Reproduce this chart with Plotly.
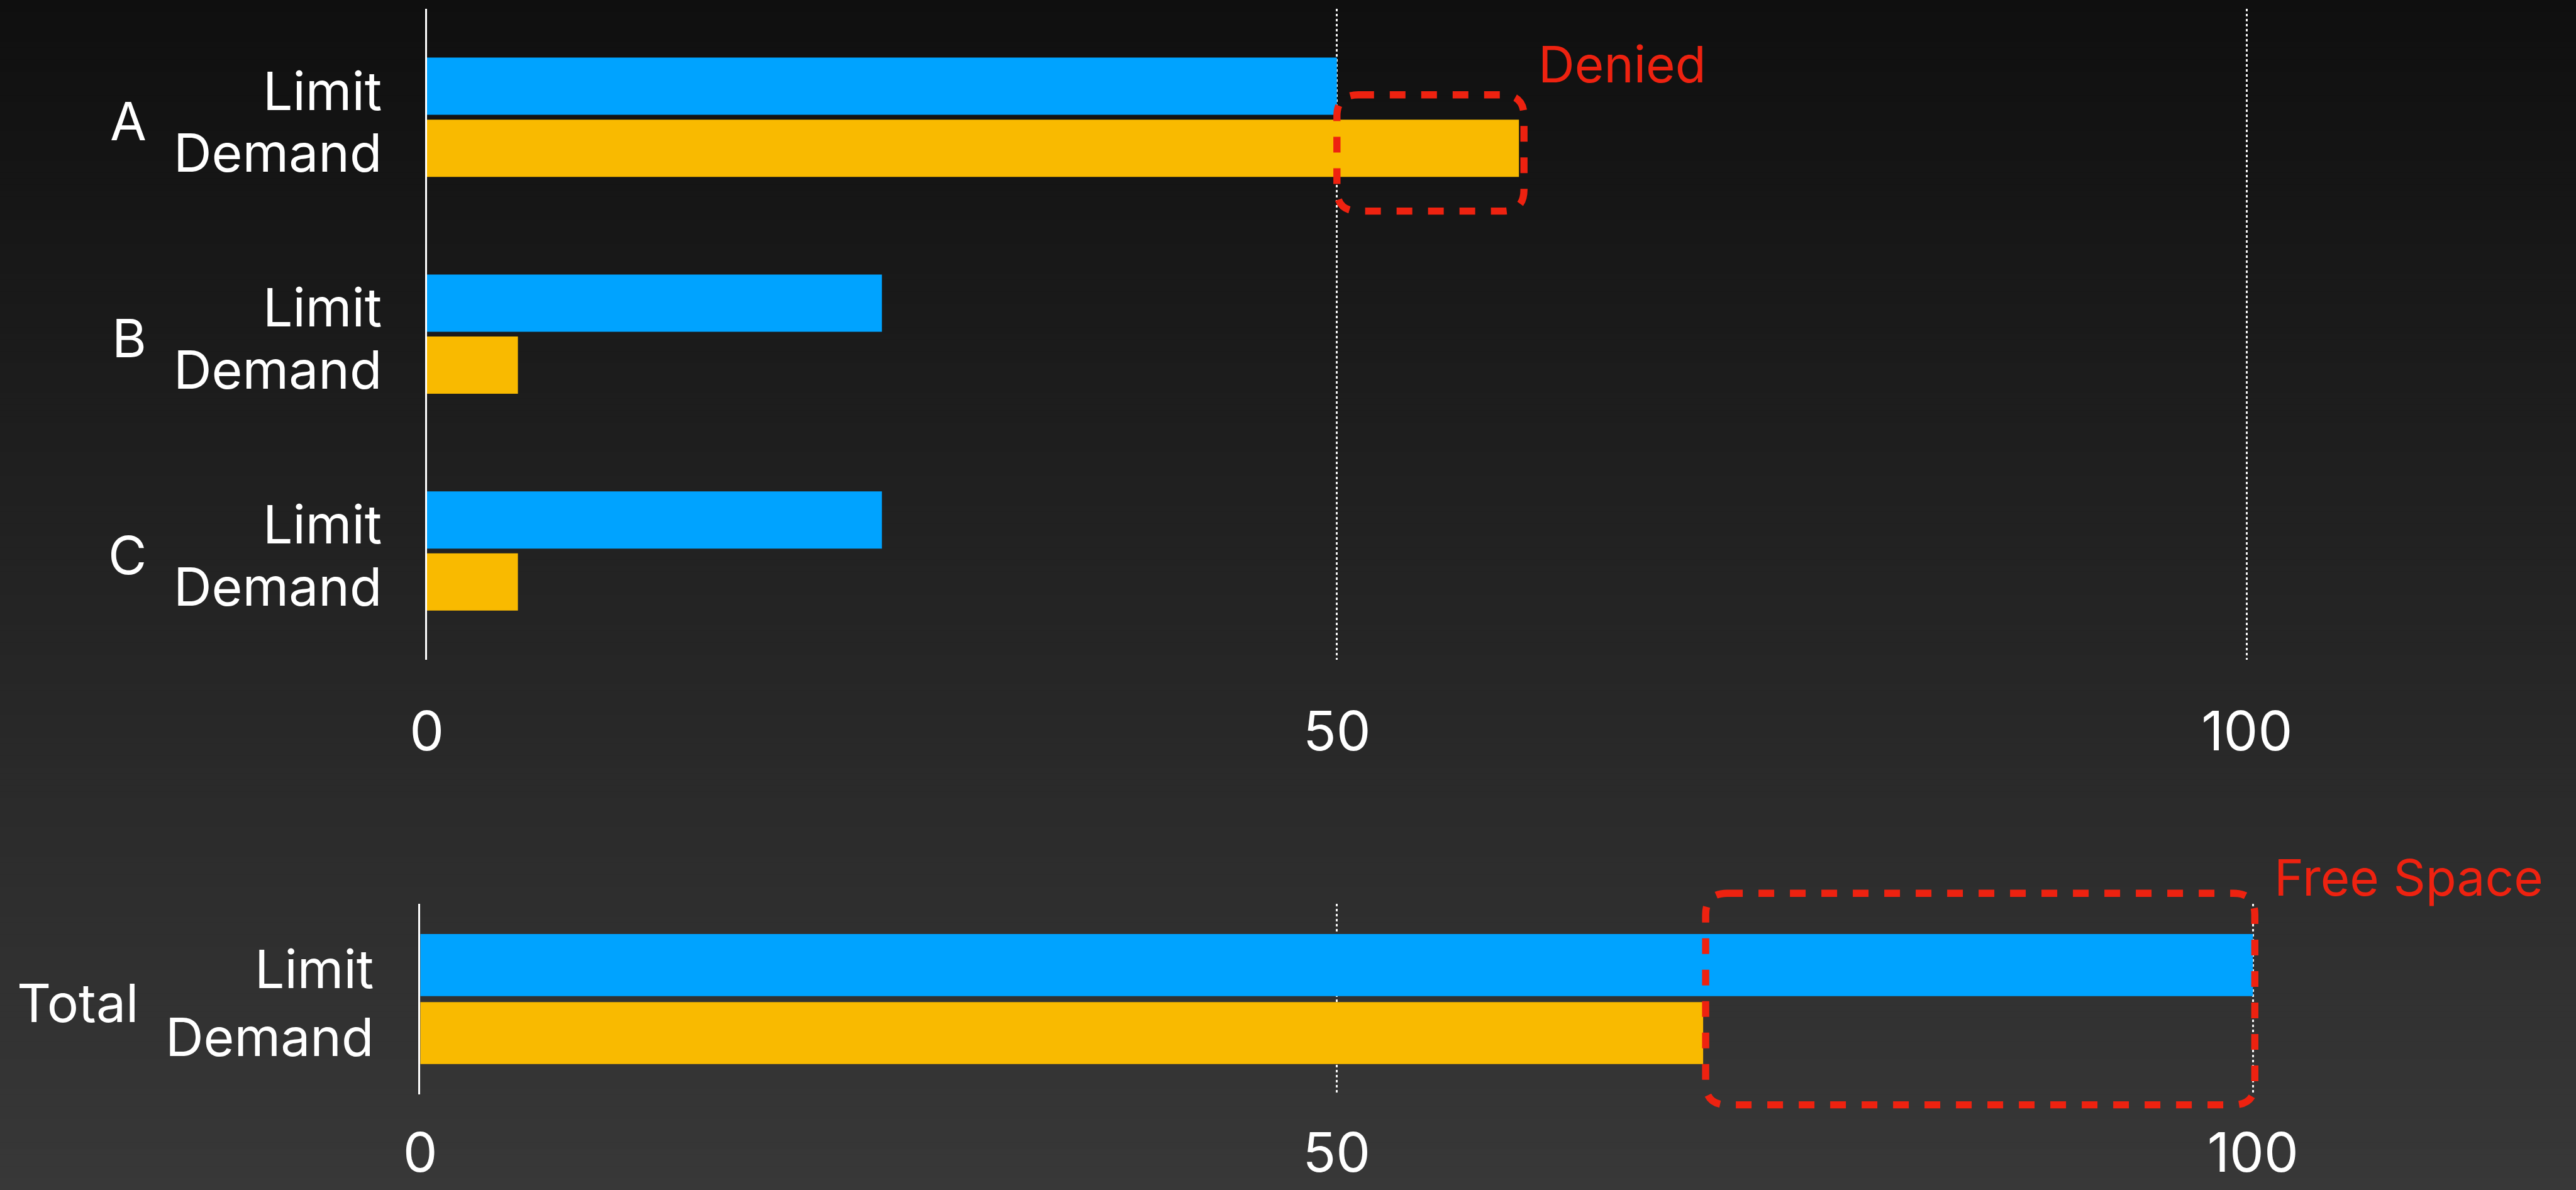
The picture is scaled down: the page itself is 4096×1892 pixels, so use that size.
import plotly.graph_objects as go

# ---------------- data ----------------
categories = ["A", "B", "C"]
limit_values = [50, 25, 25]
demand_values = [60, 5, 5]
total_category = ["Total"]
total_limit = [100]
total_demand = [70]
x_tick_values = [0, 50, 100]
series_names = ["Limit", "Demand"]
note_denied = "Denied"
note_free = "Free Space"

# ---------------- style ----------------
W, H = 4096, 1892
BLUE = "#00A3FF"
YELLOW = "#F9BA00"
RED = "#EE2210"
WHITE = "#FFFFFF"
FONT = "Inter"
LABEL_SIZE = 84
NOTE_SIZE = 80
TICK_SIZE = 87

# geometry in output pixels
top_left, top_ppu, top_xmax = 678.8, 28.94, 118
top_ytop, top_ybot = 13.9, 1048.5
bot_left, bot_ppu, bot_xmax = 668.3, 29.14, 116
bot_ytop, bot_ybot = 1437.2, 1739.6

top_band = (top_ybot - top_ytop) / len(categories)
bot_band = (bot_ybot - bot_ytop) / len(total_category)

top_w = 91.0 / top_band
top_gap = 7.6 / top_band
bot_w = 98.6 / bot_band
bot_gap = 9.5 / bot_band

top_off = [-(top_w + top_gap / 2), top_gap / 2]
bot_off = [-(bot_w + bot_gap / 2), bot_gap / 2]

fig = go.Figure()

# top bars
for name, vals, col, off in zip(series_names, [limit_values, demand_values],
                                [BLUE, YELLOW], top_off):
    fig.add_trace(go.Bar(x=vals, y=categories, orientation="h", name=name,
                         marker=dict(color=col, line=dict(width=0)),
                         width=top_w, offset=off, xaxis="x", yaxis="y",
                         showlegend=False, hoverinfo="skip"))
# bottom bars
for name, vals, col, off in zip(series_names, [total_limit, total_demand],
                                [BLUE, YELLOW], bot_off):
    fig.add_trace(go.Bar(x=vals, y=total_category, orientation="h", name=name,
                         marker=dict(color=col, line=dict(width=0)),
                         width=bot_w, offset=off, xaxis="x2", yaxis="y2",
                         showlegend=False, hoverinfo="skip"))

# ---------------- background gradient ----------------
shapes = []
n = 200
c_top, c_bot = 15, 56
for i in range(n):
    t = (i + 0.5) / n
    c = round(c_top + (c_bot - c_top) * t)
    shapes.append(dict(type="rect", xref="paper", yref="paper",
                       x0=-0.01, x1=1.01, y0=1 - (i + 1) / n - 0.001, y1=1 - i / n,
                       fillcolor=f"rgb({c},{c},{c})", line=dict(width=0),
                       layer="below"))


def rounded_path(x0, x1, y0, y1, rx, ry):
    sx = rx if x1 > x0 else -rx
    sy = ry if y1 > y0 else -ry
    parts = [
        f"M{x0 + sx},{y0}", f"L{x1 - sx},{y0}",
        f"Q{x1},{y0} {x1},{y0 + sy}", f"L{x1},{y1 - sy}",
        f"Q{x1},{y1} {x1 - sx},{y1}", f"L{x0 + sx},{y1}",
        f"Q{x0},{y1} {x0},{y1 - sy}", f"L{x0},{y0 + sy}",
        f"Q{x0},{y0} {x0 + sx},{y0}", "Z",
    ]
    return " ".join(parts)


radius = 34
dash_line = dict(color=RED, width=11.4, dash="25px,25px")

# denied box (excess of demand over limit for A)
d_x0 = limit_values[0]
d_x1 = demand_values[0] + 8 / top_ppu
d_y0, d_y1 = -0.103, 0.433  # category units around row A
shapes.append(dict(type="path", xref="x", yref="y",
                   path=rounded_path(d_x0, d_x1, d_y0, d_y1,
                                     radius / top_ppu, radius / top_band),
                   line=dash_line, layer="above"))

# free space box (limit minus demand, total)
f_x0 = total_demand[0] + 4 / bot_ppu
f_x1 = total_limit[0] + 3 / bot_ppu
f_y0 = 1 + 17 / (bot_ybot - bot_ytop)
f_y1 = -17 / (bot_ybot - bot_ytop)
shapes.append(dict(type="path", xref="x2", yref="y2 domain",
                   path=rounded_path(f_x0, f_x1, f_y0, f_y1,
                                     radius / bot_ppu, radius / (bot_ybot - bot_ytop)),
                   line=dash_line, layer="above"))

# ---------------- annotations ----------------
annotations = []
lab_font = dict(family=FONT, size=LABEL_SIZE, color=WHITE)
for i, cat in enumerate(categories):
    annotations.append(dict(text=cat, xref="x", yref="y", x=0, y=i,
                            xanchor="right", yanchor="middle", xshift=-444,
                            yshift=-6.5, showarrow=False, font=lab_font))
    for name, off in zip(series_names, top_off):
        annotations.append(dict(text=name, xref="x", yref="y", x=0,
                                y=i + off + top_w / 2, xanchor="right",
                                yanchor="middle", xshift=-70, yshift=-7,
                                showarrow=False, font=lab_font))
annotations.append(dict(text=total_category[0], xref="x2", yref="y2", x=0, y=0,
                        xanchor="right", yanchor="middle", xshift=-446,
                        yshift=-6.5, showarrow=False, font=lab_font))
for name, off in zip(series_names, bot_off):
    annotations.append(dict(text=name, xref="x2", yref="y2", x=0,
                            y=0 + off + bot_w / 2, xanchor="right",
                            yanchor="middle", xshift=-72, yshift=-6,
                            showarrow=False, font=lab_font))

annotations.append(dict(text=note_denied, xref="x", yref="y", x=d_x1, y=d_y0,
                        xanchor="left", yanchor="middle", xshift=21, yshift=49,
                        showarrow=False,
                        font=dict(family=FONT, size=NOTE_SIZE, color=RED)))
annotations.append(dict(text=note_free, xref="x2", yref="y2 domain", x=f_x1, y=f_y0,
                        xanchor="left", yanchor="middle", xshift=29, yshift=26,
                        showarrow=False,
                        font=dict(family=FONT, size=NOTE_SIZE, color=RED)))

grid_common = dict(showgrid=True, gridcolor="rgba(255,255,255,0.95)", gridwidth=2.8,
                   griddash="4px,4px", zeroline=False, showline=False, ticks="",
                   tickvals=x_tick_values, automargin=False,
                   tickfont=dict(family=FONT, size=TICK_SIZE, color=WHITE),
                   fixedrange=True)
yaxis_common = dict(type="category", showline=True, linecolor=WHITE, linewidth=2.5,
                    showgrid=False, zeroline=False, ticks="", showticklabels=False,
                    automargin=False, fixedrange=True)

fig.update_layout(
    width=W, height=H, margin=dict(l=0, r=0, t=0, b=0, pad=0, autoexpand=False),
    paper_bgcolor="#1f1f1f", plot_bgcolor="rgba(0,0,0,0)",
    barmode="overlay", showlegend=False,
    font=dict(family=FONT, color=WHITE),
    xaxis=dict(domain=[top_left / W, (top_left + top_xmax * top_ppu) / W],
               range=[0, top_xmax], anchor="y", ticklabelstandoff=56, **grid_common),
    yaxis=dict(domain=[1 - top_ybot / H, 1 - top_ytop / H], anchor="x",
               categoryorder="array", categoryarray=categories,
               range=[len(categories) - 0.5, -0.5], **yaxis_common),
    xaxis2=dict(domain=[bot_left / W, (bot_left + bot_xmax * bot_ppu) / W],
                range=[0, bot_xmax], anchor="y2", ticklabelstandoff=35, **grid_common),
    yaxis2=dict(domain=[1 - bot_ybot / H, 1 - bot_ytop / H], anchor="x2",
                categoryorder="array", categoryarray=total_category,
                range=[0.5, -0.5], **yaxis_common),
    shapes=shapes, annotations=annotations,
)

fig.write_html(
    "out.html",
    config={"displayModeBar": False},
    post_script=("document.body.style.margin='0';"
                 "document.body.style.background='#0f0f0f';"
                 "document.documentElement.style.overflow='hidden';"),
)
